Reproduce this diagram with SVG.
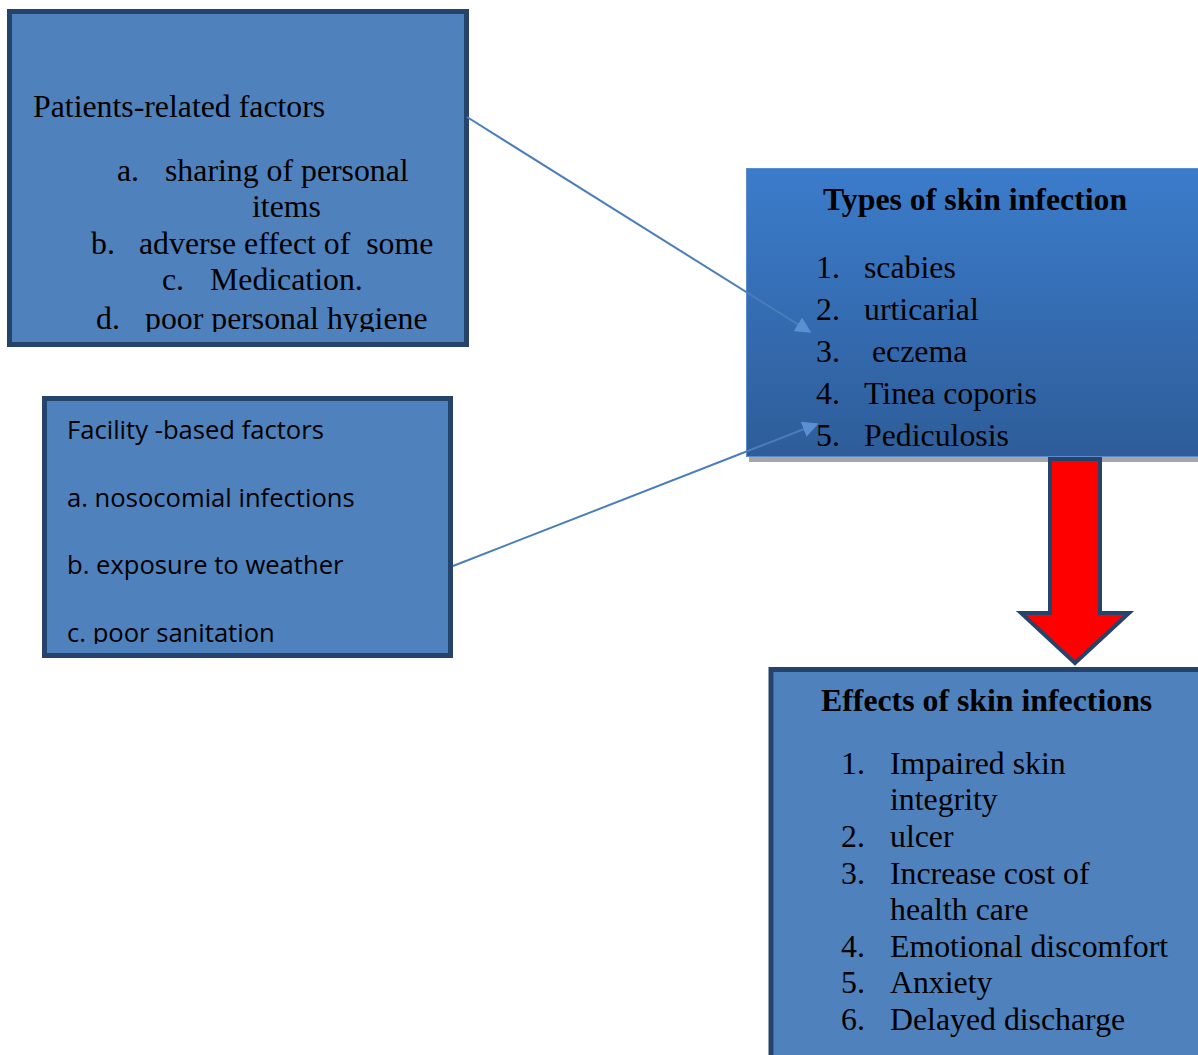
<svg xmlns="http://www.w3.org/2000/svg" width="1198" height="1055" viewBox="0 0 1198 1055">
<style>
.box{fill:#4f81bd;stroke:#26446b;stroke-width:5}
.serif{font-family:"Liberation Serif","Times New Roman",serif;font-size:31.8px;fill:#000}
.bold{font-weight:bold}
.sans{font-family:"Open Sans","Liberation Sans",sans-serif;font-size:25.6px;fill:#000}
.conn{stroke:#4a7ebb;stroke-width:2;fill:none}
</style>
<defs>
<linearGradient id="gTypes" x1="0" y1="0" x2="0" y2="1">
<stop offset="0" stop-color="#3b7ccb"/>
<stop offset="1" stop-color="#2e5d99"/>
</linearGradient>
<marker id="ah" viewBox="0 0 10 10" refX="9" refY="5" markerWidth="8" markerHeight="8" markerUnits="strokeWidth" orient="auto">
<path d="M0,0 L10,5 L0,10 z" fill="#5a8fd2"/>
</marker>
<clipPath id="c1"><rect x="0" y="0" width="480" height="332"/></clipPath>
<clipPath id="c2"><rect x="0" y="380" width="480" height="264"/></clipPath>
<clipPath id="c3"><rect x="740" y="160" width="458" height="287"/></clipPath>
</defs>

<g id="patients">
<rect class="box" x="9.5" y="11.5" width="457" height="333"/>
<g clip-path="url(#c1)" class="serif">
<text x="33" y="117">Patients-related factors</text>
<text x="117" y="181">a.</text><text x="165" y="181">sharing of personal</text>
<text x="252" y="217">items</text>
<text x="91" y="254">b.</text><text x="139" y="254" xml:space="preserve">adverse effect of  some</text>
<text x="162" y="290">c.</text><text x="210" y="290">Medication.</text>
<text x="96" y="329">d.</text><text x="145" y="329">poor personal hygiene</text>
</g>
</g>

<g id="facility">
<rect class="box" x="44.5" y="398.5" width="406" height="257"/>
<g clip-path="url(#c2)" class="sans">
<text x="67" y="439">Facility -based factors</text>
<text x="67" y="507">a. nosocomial infections</text>
<text x="67" y="574">b. exposure to weather</text>
<text x="67" y="642">c. poor sanitation</text>
</g>
</g>

<g id="types">
<rect x="749" y="457" width="460" height="5" fill="#a6a6a6"/>
<rect x="746.5" y="168.5" width="470" height="288" fill="url(#gTypes)" stroke="#5b8bd0" stroke-width="1"/>
<g clip-path="url(#c3)" class="serif">
<text x="823" y="210" class="bold">Types of skin infection</text>
<text x="816" y="278">1.</text><text x="864" y="278">scabies</text>
<text x="816" y="320">2.</text><text x="864" y="320">urticarial</text>
<text x="816" y="362">3.</text><text x="872" y="362">eczema</text>
<text x="816" y="404">4.</text><text x="864" y="404">Tinea coporis</text>
<text x="816" y="446">5.</text><text x="864" y="446">Pediculosis</text>
</g>
</g>

<g id="effects">
<rect class="box" x="771" y="669.5" width="500" height="500"/>
<g class="serif">
<text x="821" y="711" class="bold">Effects of skin infections</text>
<text x="841" y="774">1.</text><text x="890" y="774">Impaired skin</text>
<text x="890" y="810">integrity</text>
<text x="841" y="847">2.</text><text x="890" y="847">ulcer</text>
<text x="841" y="884">3.</text><text x="890" y="884">Increase cost of</text>
<text x="890" y="920">health care</text>
<text x="841" y="957">4.</text><text x="890" y="957">Emotional discomfort</text>
<text x="841" y="993">5.</text><text x="890" y="993">Anxiety</text>
<text x="841" y="1030">6.</text><text x="890" y="1030">Delayed discharge</text>
</g>
</g>

<g id="connectors">
<line class="conn" x1="467" y1="117" x2="810" y2="332" marker-end="url(#ah)"/>
<line class="conn" x1="453" y1="566" x2="817" y2="424" marker-end="url(#ah)"/>
<polygon id="red-arrow" points="1050,459 1100,459 1100,613 1129,613 1075,663 1021,613 1050,613" fill="#ff0000" stroke="#26446b" stroke-width="4" stroke-linejoin="miter"/>
</g>
</svg>
